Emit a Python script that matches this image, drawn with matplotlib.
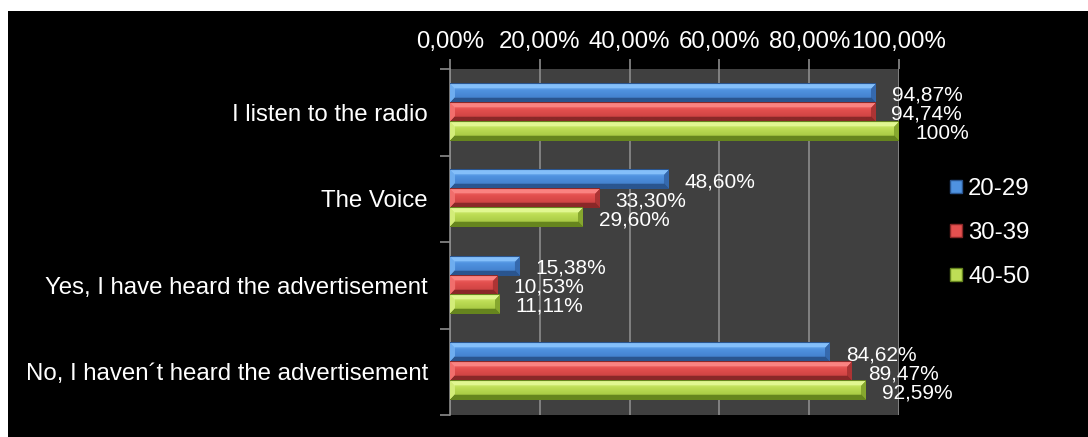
import numpy as np
import matplotlib
matplotlib.use("Agg")
import matplotlib.pyplot as plt
from matplotlib.patches import Rectangle, Patch
from matplotlib.colors import to_rgb

plt.rcParams['font.family'] = ['Liberation Sans', 'DejaVu Sans']

categories = [
    "I listen to the radio",
    "The Voice",
    "Yes, I have heard the advertisement",
    "No, I haven\u00b4t heard the advertisement",
]
series_names = ["20-29", "30-39", "40-50"]
age_20_29 = [94.87, 48.60, 15.38, 84.62]
age_30_39 = [94.74, 33.30, 10.53, 89.47]
age_40_50 = [100.00, 29.60, 11.11, 92.59]
tick_values = [0, 20, 40, 60, 80, 100]

# light, face, shadow, dark per series for the bevelled bars
palettes = [
    ("#8ec8ff", "#4f92e0", "#3d78c4", "#2a558f"),
    ("#ff8c8a", "#e4504f", "#c33c3c", "#8a2828"),
    ("#e8fc9c", "#bede56", "#9cbe3a", "#66851e"),
]


def fmt_pct(v):
    if float(v).is_integer():
        return f"{int(v)}%"
    return f"{v:.2f}".replace(".", ",") + "%"


def bevel_image(w, h, pal, b=5):
    light, face, shadow, dark = [np.array(to_rgb(c)) for c in pal]
    img = np.zeros((h, w, 3))
    for yy in range(h):
        t = yy / max(h - 1, 1)
        # vertical gradient on the face
        if t < 0.35:
            col = light * (1 - t / 0.35) + face * (t / 0.35)
        else:
            s = (t - 0.35) / 0.65
            col = face * (1 - s) + shadow * s
        img[yy, :, :] = col
    for yy in range(h):
        for xx in range(w):
            dt = yy
            db = h - 1 - yy
            dl = xx
            dr = w - 1 - xx
            m = min(dt, db, dl, dr)
            if m >= b:
                continue
            if m == dt:
                c = light * 0.85 + face * 0.15
            elif m == db:
                c = dark
            elif m == dr:
                c = shadow * 0.6 + dark * 0.4
            else:
                c = light * 0.5 + face * 0.5
            img[yy, xx, :] = c
    img[0, :, :] = dark
    return img


W, H = 1088, 437
fig = plt.figure(figsize=(W / 100, H / 100), dpi=100, facecolor="white")
fig.add_artist(Rectangle((8 / W, 0), 1 - 8 / W, 1 - 11 / H,
                         transform=fig.transFigure, facecolor="black",
                         edgecolor="none", zorder=-10))

ax = fig.add_axes([450 / W, 1 - 415 / H, 449 / W, 346 / H])
ax.set_facecolor("#404040")

y = np.arange(len(categories))
bh = 0.22
offsets = [-bh, 0, bh]
all_series = [age_20_29, age_30_39, age_40_50]

bars = []
for i, vals in enumerate(all_series):
    bc = ax.barh(y + offsets[i], vals, height=bh, color=palettes[i][1],
                 edgecolor="none", zorder=3)
    bars.append(bc)

axis_fs = 17.3
ax.set_xlim(0, 100)
ax.set_ylim(len(categories) - 0.5, -0.5)
ax.set_xticks(tick_values)
ax.set_xticklabels([f"{v},00%" for v in tick_values])
ax.xaxis.tick_top()
ax.set_yticks(np.arange(len(categories) + 1) - 0.5, minor=True)
ax.set_yticks(y)
ax.set_yticklabels(categories)
ax.tick_params(axis="y", which="major", length=0, pad=16, labelsize=axis_fs,
               labelcolor="white")
ax.tick_params(axis="y", which="minor", length=7, color="#8c8c8c", width=1.2)
ax.tick_params(axis="x", length=7, color="#8c8c8c", width=1.2, pad=4.5,
               labelsize=axis_fs, labelcolor="white")
ax.grid(axis="x", color="#8c8c8c", linewidth=1.2, zorder=1)
ax.set_axisbelow(True)
for s in ["top", "right", "bottom"]:
    ax.spines[s].set_visible(False)
ax.spines["left"].set_color("#8c8c8c")
ax.spines["left"].set_linewidth(1.2)

fig.canvas.draw()
for i, bc in enumerate(bars):
    for rect in bc:
        x0, y0 = rect.get_x(), rect.get_y()
        w, h = rect.get_width(), rect.get_height()
        ext = rect.get_window_extent()
        wp = max(int(round(ext.width)), 2)
        hp = max(int(round(ext.height)), 2)
        img = bevel_image(wp, hp, palettes[i])
        ax.imshow(img, extent=(x0, x0 + w, y0 + h, y0), aspect="auto",
                  interpolation="bilinear", zorder=4)
ax.set_xlim(0, 100)
ax.set_ylim(len(categories) - 0.5, -0.5)

for i, vals in enumerate(all_series):
    for j, v in enumerate(vals):
        ax.annotate(fmt_pct(v), xy=(v, y[j] + offsets[i]),
                    xytext=(11.5, -1.5), textcoords="offset points",
                    ha="left", va="center", color="white", fontsize=15,
                    annotation_clip=False, zorder=6)

handles = [Patch(facecolor=palettes[i][1], edgecolor=palettes[i][3])
           for i in range(3)]
fig.legend(handles, series_names, loc="center left",
           bbox_to_anchor=(931 / W, 1 - 233 / H), frameon=False,
           labelcolor="white", fontsize=axis_fs, handlelength=0.5,
           handleheight=0.5, handletextpad=0.25, labelspacing=0.92,
           borderpad=0.3)

fig.savefig("out.png", dpi=100, facecolor=fig.get_facecolor())
